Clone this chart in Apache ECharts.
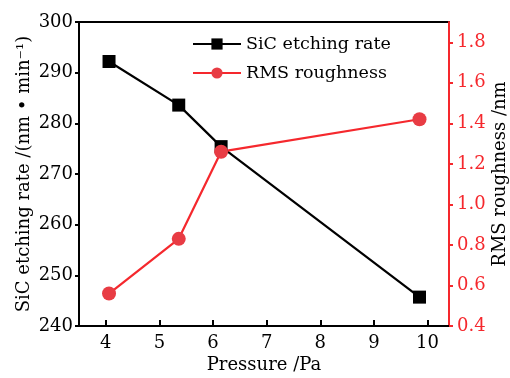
<!DOCTYPE html>
<html><head><meta charset="utf-8">
<script src="https://cdn.jsdelivr.net/npm/echarts@6/dist/echarts.min.js"></script>
<style>html,body{margin:0;padding:0;background:#fff}#c{width:510px;height:378px}</style>
</head><body><div id="c"></div>
<script>
const pressure = [4.06, 5.36, 6.15, 9.85];
const etchRate = [292.2, 283.6, 275.4, 245.7];
const roughness = [0.56, 0.83, 1.26, 1.42];
const xTicks = [4, 5, 6, 7, 8, 9, 10];
const rightTicks = [0.4, 0.6, 0.8, 1.0, 1.2, 1.4, 1.6, 1.8];
const FONT = 'DejaVu Serif';
const RED = '#f5282d';
const chart = echarts.init(document.getElementById('c'));
chart.setOption({
  backgroundColor: '#fff',
  animation: false,
  textStyle: {fontFamily: FONT},
  grid: {left: 79, right: 61, top: 22, bottom: 52, show: true, borderColor: '#000', borderWidth: 2,
    containLabel: false, outerBoundsMode: 'none'},
  legend: {
    orient: 'vertical', left: 187, top: 30, itemWidth: 48, itemHeight: 14, itemGap: 11,
    textStyle: {fontFamily: FONT, fontSize: 17.5, color: '#000'},
    data: ['SiC etching rate', 'RMS roughness']
  },
  xAxis: {
    type: 'value', min: 3.5, max: 10.4,
    name: 'Pressure /Pa', nameLocation: 'middle', nameGap: 30, nameMoveOverlap: false,
    nameTextStyle: {fontFamily: FONT, fontSize: 18, color: '#000'},
    axisLine: {lineStyle: {color: '#000', width: 2}},
    axisTick: {inside: true, length: 6, lineStyle: {width: 2, color: '#000'}, customValues: xTicks},
    axisLabel: {fontFamily: FONT, fontSize: 18, color: '#000', margin: 8, customValues: xTicks},
    splitLine: {show: false}
  },
  yAxis: [{
    type: 'value', min: 240, max: 300, interval: 10, position: 'left',
    name: 'SiC etching rate /(nm \u2022 min\u207B\u00B9)', nameLocation: 'middle', nameRotate: 90, nameGap: 46,
    nameMoveOverlap: false,
    nameTextStyle: {fontFamily: FONT, fontSize: 18, color: '#000'},
    axisLine: {show: true, lineStyle: {color: '#000', width: 2}},
    axisTick: {show: true, length: 4, lineStyle: {width: 2, color: '#000'}},
    axisLabel: {fontFamily: FONT, fontSize: 18, color: '#000', margin: 6},
    splitLine: {show: false}
  }, {
    type: 'value', min: 0.4, max: 1.9, position: 'right',
    name: 'RMS roughness /nm', nameLocation: 'middle', nameRotate: 90, nameGap: 42,
    nameMoveOverlap: false,
    nameTextStyle: {fontFamily: FONT, fontSize: 18, color: '#000'},
    axisLine: {show: true, lineStyle: {color: RED, width: 2}},
    axisTick: {show: true, length: 4, lineStyle: {width: 2, color: RED}, customValues: rightTicks},
    axisLabel: {fontFamily: FONT, fontSize: 18, color: RED, margin: 8, customValues: rightTicks,
      formatter: v => v.toFixed(1)},
    splitLine: {show: false}
  }],
  series: [{
    name: 'SiC etching rate', type: 'line', yAxisIndex: 0,
    data: pressure.map((p, i) => [p, etchRate[i]]),
    symbol: 'rect', symbolSize: 13,
    lineStyle: {color: '#000', width: 2.2}, itemStyle: {color: '#000'}
  }, {
    name: 'RMS roughness', type: 'line', yAxisIndex: 1,
    data: pressure.map((p, i) => [p, roughness[i]]),
    symbol: 'circle', symbolSize: 14,
    lineStyle: {color: RED, width: 2.2}, itemStyle: {color: '#e83c44'}
  }]
});
</script></body></html>
